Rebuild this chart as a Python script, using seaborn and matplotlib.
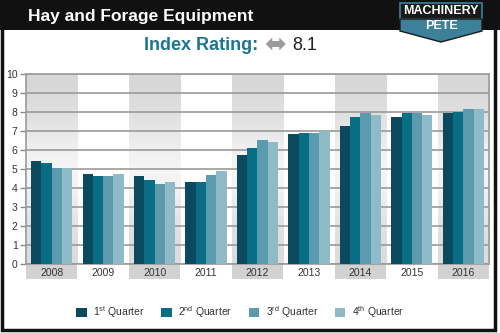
import numpy as np
import pandas as pd
import matplotlib
matplotlib.use("Agg")
import matplotlib.pyplot as plt
from matplotlib.patches import Rectangle, Polygon, Patch
import seaborn as sns

years = ["2008", "2009", "2010", "2011", "2012", "2013", "2014", "2015", "2016"]
quarters = ["1st Quarter", "2nd Quarter", "3rd Quarter", "4th Quarter"]
q1 = [5.44, 4.74, 4.61, 4.33, 5.72, 6.82, 7.25, 7.72, 7.93]
q2 = [5.30, 4.61, 4.42, 4.33, 6.12, 6.91, 7.72, 7.93, 8.02]
q3 = [5.04, 4.61, 4.21, 4.70, 6.51, 6.88, 7.93, 7.93, 8.14]
q4 = [5.04, 4.74, 4.33, 4.89, 6.40, 7.00, 7.84, 7.84, 8.14]
legend_labels = [r"1$^{\rm st}$ Quarter", r"2$^{\rm nd}$ Quarter", r"3$^{\rm rd}$ Quarter", r"4$^{\rm th}$ Quarter"]
yticks = list(range(0, 11))
colors = ["#0b4a5e", "#096d84", "#5b9bad", "#8fbac8"]

sns.set_style("white")
plt.rcParams["font.family"] = ["Liberation Sans", "DejaVu Sans"]
plt.rcParams["mathtext.fontset"] = "custom"
plt.rcParams["mathtext.rm"] = "Liberation Sans"

rows = []
for qi, vals in enumerate([q1, q2, q3, q4]):
    for y, v in zip(years, vals):
        rows.append({"Year": y, "Quarter": quarters[qi], "Value": v})
df = pd.DataFrame(rows)

W, H = 500, 333
fig = plt.figure(figsize=(5, 3.33), dpi=100)

def fx(px):
    return px / W

def fy(py):
    return 1 - py / H

ax = fig.add_axes([fx(26), fy(264), fx(489) - fx(26), fy(74) - fy(264)])

# alternating gray columns with vertical gradient
grad = np.array([0.84, 0.86, 0.88, 0.91, 0.94, 0.96, 0.95, 0.92, 0.89, 0.87, 0.86]).reshape(-1, 1)
for i in range(0, len(years), 2):
    ax.imshow(grad, extent=(i - 0.5, i + 0.5, 0, 10), aspect="auto", cmap="gray",
              vmin=0, vmax=1, origin="upper", zorder=0, interpolation="bilinear")
    ax.add_patch(Rectangle((i - 0.5, -0.8), 1, 0.8, facecolor="#d2d2d3", edgecolor="none",
                           clip_on=False, zorder=0))

sns.barplot(data=df, x="Year", y="Value", hue="Quarter", palette=colors, width=0.8,
            saturation=1, ax=ax, legend=False, zorder=3, edgecolor="none", linewidth=0)

ax.set_xlim(-0.5, len(years) - 0.5)
ax.set_ylim(0, 10)
ax.set_yticks(yticks)
ax.set_yticklabels([str(t) for t in yticks])
for t in yticks:
    ax.axhline(t, color="#9a9a9a", lw=1.2, zorder=1)
ax.set_xlabel("")
ax.set_ylabel("")
ax.tick_params(axis="y", length=4, width=1, color="#888888", labelsize=7.5, labelcolor="#333333", pad=2)
ax.tick_params(axis="x", length=0, labelsize=7.5, labelcolor="#333333", pad=3)
ax.yaxis.set_ticks_position("left")
for s in ax.spines.values():
    s.set_color("#9a9a9a")
    s.set_linewidth(1.2)

# legend
handles = [Patch(facecolor=c, edgecolor="none") for c in colors]
fig.legend(handles, legend_labels, loc="center", bbox_to_anchor=(fx(240), fy(312)), ncol=4,
           frameon=False, fontsize=7.5, handlelength=1.0, handleheight=1.0,
           columnspacing=1.6, handletextpad=0.6, labelcolor="#333333")

# outer frame and header
fig.patches.append(Rectangle((fx(0), fy(30)), 1, 30 / H, transform=fig.transFigure,
                             facecolor="#111111", edgecolor="none", zorder=0))
fig.patches.append(Rectangle((fx(2), fy(330)), fx(495) - fx(2), fy(2) - fy(330), transform=fig.transFigure,
                             facecolor="none", edgecolor="#111111", lw=2.5, zorder=1))
fig.text(fx(28), fy(16), "Hay and Forage Equipment", color="white", fontsize=12.5,
         fontweight="bold", ha="left", va="center")

# logo
fig.patches.append(Rectangle((fx(400), fy(19)), fx(482) - fx(400), fy(3) - fy(19), transform=fig.transFigure,
                             facecolor="#1a1a1a", edgecolor="#3c8199", lw=1.2, zorder=2))
pts = [(400, 19), (482, 19), (482, 31), (441, 42), (400, 31)]
fig.patches.append(Polygon([(fx(a), fy(b)) for a, b in pts], closed=True, transform=fig.transFigure,
                           facecolor="#3c8199", edgecolor="#1a1a1a", lw=1, zorder=2))
fig.text(fx(441), fy(11.5), "MACHINERY", color="white", fontsize=9, fontweight="bold",
         ha="center", va="center", zorder=3, stretch="condensed")
fig.text(fx(441), fy(26), "PETE", color="white", fontsize=9, fontweight="bold",
         ha="center", va="center", zorder=3)

# index rating
fig.text(fx(258), fy(45), "Index Rating:", color="#1b7690", fontsize=13, fontweight="bold",
         ha="right", va="center")
fig.text(fx(275), fy(45), "\u2B0C", color="#9a9a9a", fontsize=19,
         ha="center", va="center", family=["DejaVu Sans"])
fig.text(fx(292), fy(45), "8.1", color="#222222", fontsize=13, ha="left", va="center")

fig.savefig("out.png", dpi=100)
